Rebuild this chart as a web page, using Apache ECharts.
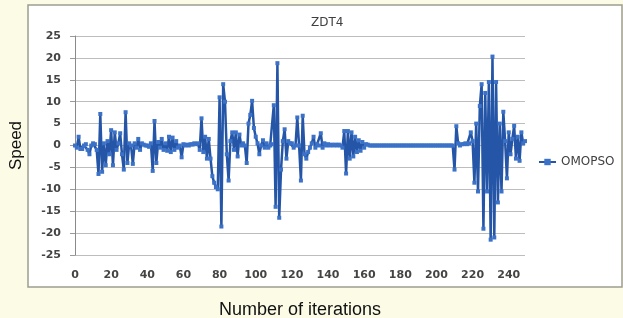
<!DOCTYPE html>
<html lang="en">
<head>
    <meta charset="UTF-8">
    <script type="text/javascript" src="https://cdn.jsdelivr.net/npm/echarts@6/dist/echarts.min.js"></script>
    <title>ZDT4</title>
    <style>
        html, body { margin: 0; padding: 0; background: #fcfbe6; }
        #graph { width: 623px; height: 318px; }
    </style>
</head>
<body>
<div id="graph"></div>
<script type="text/javascript">
    // y axis ticks
    var yTicks = [-25, -20, -15, -10, -5, 0, 5, 10, 15, 20, 25];
    // speed of OMOPSO per iteration (iterations 0..249)
    var speed = [
        0, -0.5, 2, -0.8, -0.8, 0, 0.3, -1, -2, 0,
        0.5, 0.3, -1, -6.5, 7.2, -6, 0.5, -4.5, 1, -2,
        3.5, -4.5, 3, -1, 0.5, 2.8, -2, -5.5, 7.6, -4,
        0.5, 0, -4.2, 0.5, -0.5, 1.5, -1, 0.5, 0.2, 0,
        0, -0.3, 0.5, -5.8, 5.6, -4, 0.8, -0.5, 1.5, -1,
        0.5, -1.2, 2, -1.5, 1.8, -1, 1, -0.5, 0, -2.7,
        0.3, 0, 0.2, 0, 0.3, 0.2, 0.5, 0.3, 0.5, -1,
        6.2, -1.5, 2, -3, 1.5, -3, -7, -8.5, -9.5, -10,
        11, -18.5, 14, 10, -2, -8, 1, 3, -1, 3,
        -2.5, 2.5, 0, 0.5, 0, -4, 5, 7, 10.2, 4,
        2, 0.5, -2, 0, 1.2, -0.5, 0.5, -0.5, 0, 0.3,
        9.2, -14, 18.8, -16.5, -5.5, 1, 3.7, -3, 1, 0.5,
        0.5, -0.5, 0, 6.4, 0, -8, 6.8, -2, -3, -1.5,
        -0.5, 0.5, 2, -0.5, 0.3, 0, 2.8, -0.5, 0.5, 0,
        0.3, 0, 0.2, 0, 0.2, 0, 0.2, 0, -0.5, 3.3,
        -6.4, 3.3, -3, 3, -2.5, 2, -1.5, 1.2, -1.2, 0.8,
        -0.5, 0.3, 0.2, 0, 0, 0, 0, 0, 0, 0,
        0, 0, 0, 0, 0, 0, 0, 0, 0, 0,
        0, 0, 0, 0, 0, 0, 0, 0, 0, 0,
        0, 0, 0, 0, 0, 0, 0, 0, 0, 0,
        0, 0, 0, 0, 0, 0, 0, 0, 0, 0,
        -5.5, 4.4, 0.5, 0, 0.3, 0.3, 0.5, 0.3, 0.5, 3,
        1, -8.5, 5, -10.5, 9, 14, -19, 12, -10.5, 14.5,
        -21.5, 20.3, -21, 14.5, -13, 5, -10.5, 7.7, 1, -7.5,
        3, -2, 1.5, 4.5, -3, 2, -3.5, 3, 0.5, 1
    ];
    // iteration numbers, one per value
    var iterations = speed.map(function (v, i) { return String(i); });

    var chart = echarts.init(document.getElementById('graph'), null, {renderer: 'canvas'});
    chart.setOption({
        backgroundColor: '#fcfbe6',
        animation: false,
        graphic: [{
            type: 'rect',
            z: -10,
            shape: {x: 28, y: 5, width: 594, height: 282},
            style: {fill: '#ffffff', stroke: '#9d9d90', lineWidth: 1.5}
        }],
        title: {
            text: 'ZDT4',
            left: 306,
            top: 12,
            textStyle: {fontFamily: 'DejaVu Sans', fontSize: 12, fontWeight: 'normal', color: '#404040'}
        },
        legend: {
            left: 533,
            top: 151,
            itemWidth: 17,
            itemHeight: 8,
            itemGap: 0,
            textStyle: {fontFamily: 'DejaVu Sans', fontSize: 12, color: '#404040'},
            data: ['OMOPSO']
        },
        grid: {left: 75, right: 98, top: 36, bottom: 63, outerBoundsMode: 'none', containLabel: false},
        xAxis: {
            type: 'category',
            data: iterations,
            boundaryGap: false,
            name: 'Number of iterations',
            nameLocation: 'middle',
            nameGap: 46,
            nameTextStyle: {fontFamily: 'Liberation Sans', fontSize: 18, color: '#111'},
            axisLine: {onZero: false, show: false},
            axisTick: {show: false},
            axisLabel: {
                interval: 19,
                margin: 15,
                fontFamily: 'DejaVu Sans',
                fontSize: 11,
                fontWeight: 'bold',
                color: '#444'
            },
            splitLine: {show: false}
        },
        yAxis: {
            type: 'value',
            min: yTicks[0],
            max: yTicks[yTicks.length - 1],
            interval: 5,
            name: 'Speed',
            nameLocation: 'middle',
            nameGap: 50,
            nameTextStyle: {fontFamily: 'Liberation Sans', fontSize: 17, color: '#111'},
            axisLine: {show: true, lineStyle: {color: '#8a8a8a'}},
            axisTick: {show: true, inside: false, length: 5, lineStyle: {color: '#9a9a9a'}},
            axisLabel: {
                margin: 14,
                fontFamily: 'DejaVu Sans',
                fontSize: 11,
                fontWeight: 'bold',
                color: '#444'
            },
            splitLine: {lineStyle: {color: '#bdbdbd', width: 1}}
        },
        series: [{
            name: 'OMOPSO',
            type: 'line',
            data: speed,
            symbol: 'rect',
            symbolSize: 4,
            showAllSymbol: true,
            lineStyle: {color: '#2455a6', width: 2.5},
            itemStyle: {color: '#3b72c8', borderWidth: 0}
        }]
    });
</script>
</body>
</html>
